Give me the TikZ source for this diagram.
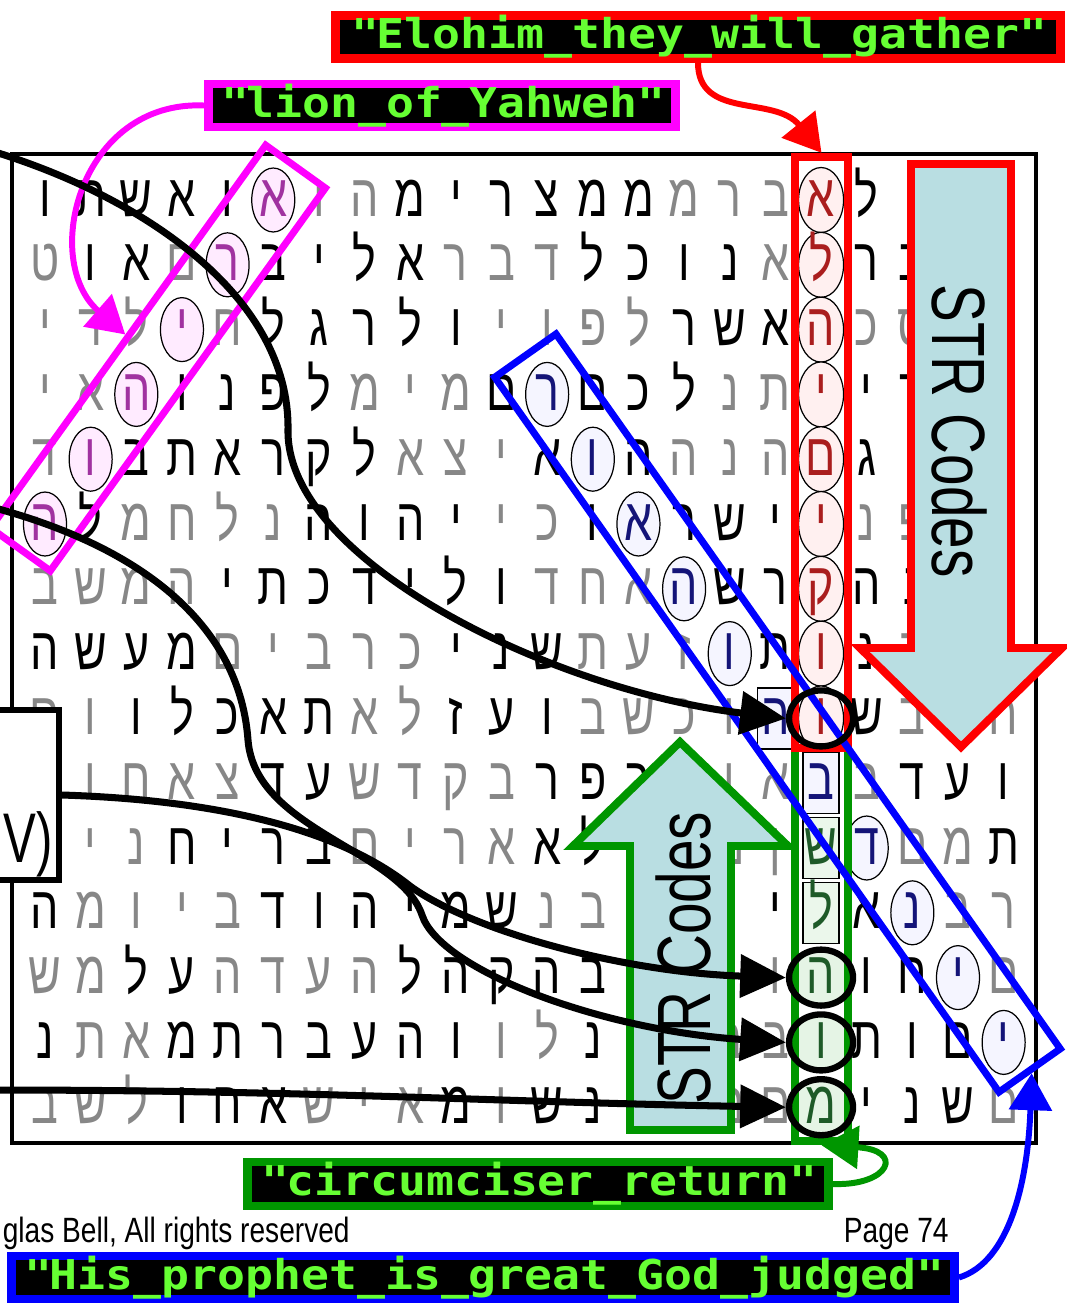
\documentclass[tikz,border=0pt]{standalone}
\usepackage{fontspec}
\usepackage{xcolor}
\usepackage{tikz}
\usetikzlibrary{positioning, arrows.meta, shapes.geometric}

\newfontfamily\hebfont[Script=Hebrew, FakeStretch=0.75]{Liberation Sans}
\newfontfamily\codefont[FakeStretch=1.13]{DejaVu Sans Mono}
\newfontfamily\narrowfont[FakeStretch=0.8]{Liberation Sans}
\newfontfamily\vfont[FakeStretch=0.7]{Liberation Sans}
\newfontfamily\strfont[FakeStretch=0.75]{Liberation Sans}

\definecolor{lettergray}{RGB}{135,135,135}
\definecolor{tagmagenta}{RGB}{255,0,255}
\definecolor{ringmag}{RGB}{160,50,160}
\definecolor{ringred}{RGB}{170,30,30}
\definecolor{ringblue}{RGB}{20,20,120}
\definecolor{ringgreen}{RGB}{30,90,40}
\definecolor{strfill}{RGB}{185,222,226}
\definecolor{codegreen}{RGB}{102,255,51}
\definecolor{stripgreen}{RGB}{0,150,0}
\definecolor{tagblue}{RGB}{0,0,255}
\definecolor{tagred}{RGB}{255,0,0}

\begin{document}
\begin{tikzpicture}[
            x=0.02cm, y=-0.02cm,
            cell/.style={
                    font=\hebfont\fontsize{34}{34}\selectfont,
                    inner sep=0pt,
                    text height=0.64cm,
                    text depth=0pt
                },
            k/.style={cell, text=black},
            g/.style={cell, text=lettergray},
            ringcell/.style={
                    cell,
                    ellipse,
                    draw=black,
                    line width=0.7pt,
                    minimum width=0.86cm,
                    minimum height=1.28cm
                },
            mg/.style={ringcell, fill=tagmagenta!8, text=ringmag},
            rd/.style={ringcell, fill=tagred!6, text=ringred,
                    minimum width=0.9cm, minimum height=1.3cm},
            bl/.style={ringcell, fill=tagblue!4, text=ringblue},
            boxcell/.style={
                    cell,
                    draw=black,
                    line width=0.7pt,
                    minimum width=0.72cm,
                    minimum height=1.22cm
                },
            bx/.style={boxcell, fill=tagblue!4, text=ringblue},
            gx/.style={boxcell, fill=stripgreen!8, text=ringgreen},
            gn/.style={cell, ellipse, fill=stripgreen!10, text=ringgreen,
                    minimum width=1.2cm, minimum height=1.05cm},
            bigring/.style={
                    ellipse,
                    draw=black,
                    line width=3.6pt,
                    minimum width=1.28cm,
                    minimum height=1.12cm
                },
            strip/.style={line width=4.8pt, inner sep=0pt},
            diag/.style={line width=4pt, inner sep=0pt},
            strarrow/.style={line width=4.5pt, fill=strfill, line join=miter},
            strtext/.style={font=\strfont\fontsize{43}{43}\selectfont, inner sep=0pt},
            tag/.style={
                    fill=black,
                    line width=4.8pt,
                    inner sep=0pt,
                    text=codegreen,
                    font=\codefont\bfseries\fontsize{23.4}{24}\selectfont
                },
            tagarrow/.style={
                    line width=3.4pt,
                    -{Triangle[length=21pt,width=24pt]}
                },
            conn/.style={
                    line width=4pt,
                    -{Triangle[length=26pt,width=24pt]}
                },
            vbox/.style={
                    draw,
                    fill=white,
                    line width=3.4pt,
                    minimum width=1.64cm,
                    minimum height=3.4cm
                },
            foot/.style={font=\narrowfont\fontsize{20}{20}\selectfont, inner sep=0pt}
        ]

        \useasboundingbox (0,0) rectangle (1067,1306);
        \clip (0,0) rectangle (1067,1306);
        \fill[white] (0,0) rectangle (1067,1306);


        \foreach \row [count=\ri from 0] in {
                {ו/k,ת/k,ש/k,א/k,ו/k,א/mg,ו/g,ה/g,מ/k,י/k,ר/k,צ/k,מ/k,מ/k,מ/g,ר/g,ב/g,א/rd,ל/k,ן/k,ה/g,ו/k},
                {ט/g,ו/k,א/k,ם/g,ר/mg,ב/k,י/k,ל/k,א/k,ר/g,ב/g,ד/g,ל/k,כ/k,ו/k,נ/k,א/g,ל/rd,ר/k,ב/k,ש/g,ה/k},
                {י/g,ד/g,ל/g,י/mg,ח/g,ל/k,ג/k,ר/k,ל/k,ו/k,י/g,ו/g,פ/g,ל/g,ר/k,ש/k,א/k,ה/rd,כ/g,ס/g,ת/k,ה/g},
                {י/g,א/g,ה/mg,ו/k,נ/k,פ/k,ל/k,מ/g,י/g,מ/g,ם/k,ר/bl,ם/k,כ/k,ל/k,נ/g,ת/g,י/rd,י/k,ד/k,ל/k,ו/g},
                {ד/g,ו/mg,ב/k,ת/k,א/k,ר/k,ק/k,ל/k,א/g,צ/g,י/g,א/k,ו/bl,ה/k,ה/g,נ/g,ה/g,ם/rd,ג/k,ו/k,מ/k,ר/g},
                {ה/mg,ל/k,מ/g,ח/g,ל/g,נ/g,ה/k,ו/k,ה/k,י/k,י/g,כ/g,ו/k,א/bl,ר/k,ש/k,י/k,י/rd,נ/g,פ/g,ש/k,ג/g},
                {ב/g,ש/g,מ/g,ה/g,י/k,ת/k,כ/k,ד/k,י/k,ל/k,ו/k,ד/g,ח/g,א/g,ה/bl,ש/k,ר/k,ק/rd,ה/k,נ/k,ה/g,ל/k},
                {ה/k,ש/k,ע/k,מ/k,ם/g,י/g,ב/g,ר/g,כ/g,י/k,נ/k,ש/k,ת/g,ע/g,ז/g,ו/bl,ת/k,ו/rd,נ/k,ה/g,ו/k,ם/g},
                {ם/g,ו/g,ו/k,ל/k,כ/k,א/k,ת/k,א/g,ל/g,ז/k,ע/k,ו/k,ב/g,ש/g,כ/g,ו/g,ה/bx,ו/rd,ש/k,ב/g,ד/k,ח/g},
                {\relax/g,ו/g,ח/g,א/g,צ/g,ד/k,ע/k,ש/g,ד/g,ק/g,ב/g,ר/k,פ/k,ר/k,ו/g,ו/g,א/g,ב/bx,ב/g,ד/k,ע/k,ו/k},
                {\relax/g,י/g,נ/g,ח/k,י/k,ר/k,ב/k,ם/g,י/g,ר/g,א/g,א/k,ל/k,ה/g,ה/g,ם/g,ן/g,ש/gx,ד/bl,ם/g,מ/g,ת/k},
                {ה/k,מ/g,ו/g,י/g,ב/g,ד/k,ו/k,ה/k,י/k,מ/k,ש/k,נ/g,ב/g,ה/g,ה/g,נ/k,י/k,ל/gx,א/k,נ/bl,ב/g,ר/g},
                {ש/g,מ/g,ל/k,ע/k,ה/g,ד/g,ע/g,ה/g,ל/k,ה/k,ק/k,ה/k,ב/k,ה/g,ה/g,ו/g,ו/g,ה/gn,ו/k,ח/k,י/bl,ם/g},
                {נ/k,ת/g,א/g,מ/k,ת/k,ר/k,ב/k,ע/k,ה/k,ו/k,ו/g,ל/g,נ/k,ה/g,ה/g,ב/g,ב/g,ו/gn,ת/k,ו/k,ם/k,י/bl},
                {ב/g,ש/g,ל/g,ו/k,ח/k,א/k,ש/g,י/g,א/g,מ/k,ו/g,ש/k,נ/k,ה/g,ה/g,ם/g,ם/g,מ/gn,י/k,נ/k,ש/k,ם/g}}{
                \foreach \l/\s [count=\ci from 0] in \row {
                        \node[\s] (c-\ri-\ci) at (45+45.65*\ci, 200+64.8*\ri) {\l};
                    }
            }


        \draw[line width=1.8pt] (12,154) rectangle (1036,1143);


        \node[strip, draw=stripgreen, minimum width=1.06cm, minimum height=7.86cm]
        (greencol) at (821.5,944.5) {};

        \node[strip, draw=tagred, minimum width=1.06cm, minimum height=11.82cm]
        (redcol) at (821.5,452.5) {};


        \draw[strarrow, draw=tagred]
        (911,164) -- (1011,164) -- (1011,648) -- (1062,648)
        -- (961,747) -- (860,648) -- (911,648) -- cycle;

        \node[strtext, rotate=-90] (strdown) at (959,431) {STR Codes};


        \draw[strarrow, draw=stripgreen]
        (630,1130) -- (731,1130) -- (731,846) -- (788,846)
        -- (680,742) -- (573,846) -- (630,846) -- cycle;

        \node[strtext, rotate=90] (strup) at (683,958) {STR Codes};


        \node[diag, draw=tagblue, minimum width=17.5cm, minimum height=1.5cm, rotate=-54.8]
        (bluebox) at (777.5,713) {};

        \node[diag, draw=tagmagenta, minimum width=9.43cm, minimum height=1.47cm, rotate=54.3]
        (magbox) at (158,358) {};


        \node[bigring] (ring8) at (c-8-17) {};
        \node[bigring] (ring12) at (c-12-17) {};
        \node[bigring] (ring13) at (c-13-17) {};
        \node[bigring] (ring14) at (c-14-17) {};


        \node[vbox] (vbox) at (18,795) {};
        \node[font=\vfont\fontsize{40}{40}\selectfont, anchor=base east, inner sep=0pt]
        (vtext) at (53,862) {V)};


        \node[tag, draw=tagred, minimum width=14.51cm, minimum height=0.83cm]
        (elohim) at (698,37)
        {\textquotedbl Elohim\_they\_will\_gather\textquotedbl};

        \node[tag, draw=tagmagenta, minimum width=9.35cm, minimum height=0.85cm]
        (lion) at (442,105.5)
        {\textquotedbl lion\_of\_Yahweh\textquotedbl};

        \node[tag, draw=stripgreen, minimum width=11.63cm, minimum height=0.87cm]
        (circ) at (538,1184)
        {\textquotedbl circumciser\_return\textquotedbl};

        \node[tag, draw=tagblue, minimum width=18.87cm, minimum height=0.85cm]
        (prophet) at (483,1277.5)
        {\textquotedbl His\_prophet\_is\_great\_God\_judged\textquotedbl};


        \draw[tagarrow, tagred] (elohim.south) .. controls (698,120) and (775,95) .. (redcol.north);
        \draw[tagarrow, tagmagenta] (lion.west) .. controls (80,100) and (40,260) .. (magbox.north);
        \draw[tagarrow, stripgreen] (circ.east) .. controls (890,1186) and (905,1150) .. (greencol.south);
        \draw[tagarrow, tagblue] (prophet.east) .. controls (1010,1262) and (1028,1180) .. (bluebox.east);


        \coordinate (fromtop) at (-5,152);
        \coordinate (fromleft) at (-5,508);
        \coordinate (frombottom) at (-5,1090);

        \draw[conn] (fromtop) .. controls (150,200) and (290,300) .. (288,430)
        .. controls (286,560) and (550,690) .. (ring8.west);

        \draw[conn] (fromleft) .. controls (150,550) and (240,630) .. (248,740)
        .. controls (255,830) and (400,850) .. (422,915)
        .. controls (440,970) and (600,1030) .. (ring13.west);

        \draw[conn] (vbox.east) .. controls (220,800) and (340,830) .. (410,886)
        .. controls (470,930) and (620,972) .. (ring12.west);

        \draw[conn] (frombottom) .. controls (300,1090) and (500,1102) .. (ring14.west);


        \node[foot, anchor=base east] (rights) at (350,1242) {glas Bell, All rights reserved};
        \node[foot, anchor=base east] (page) at (949,1242) {Page 74};


    \end{tikzpicture}
\end{document}
